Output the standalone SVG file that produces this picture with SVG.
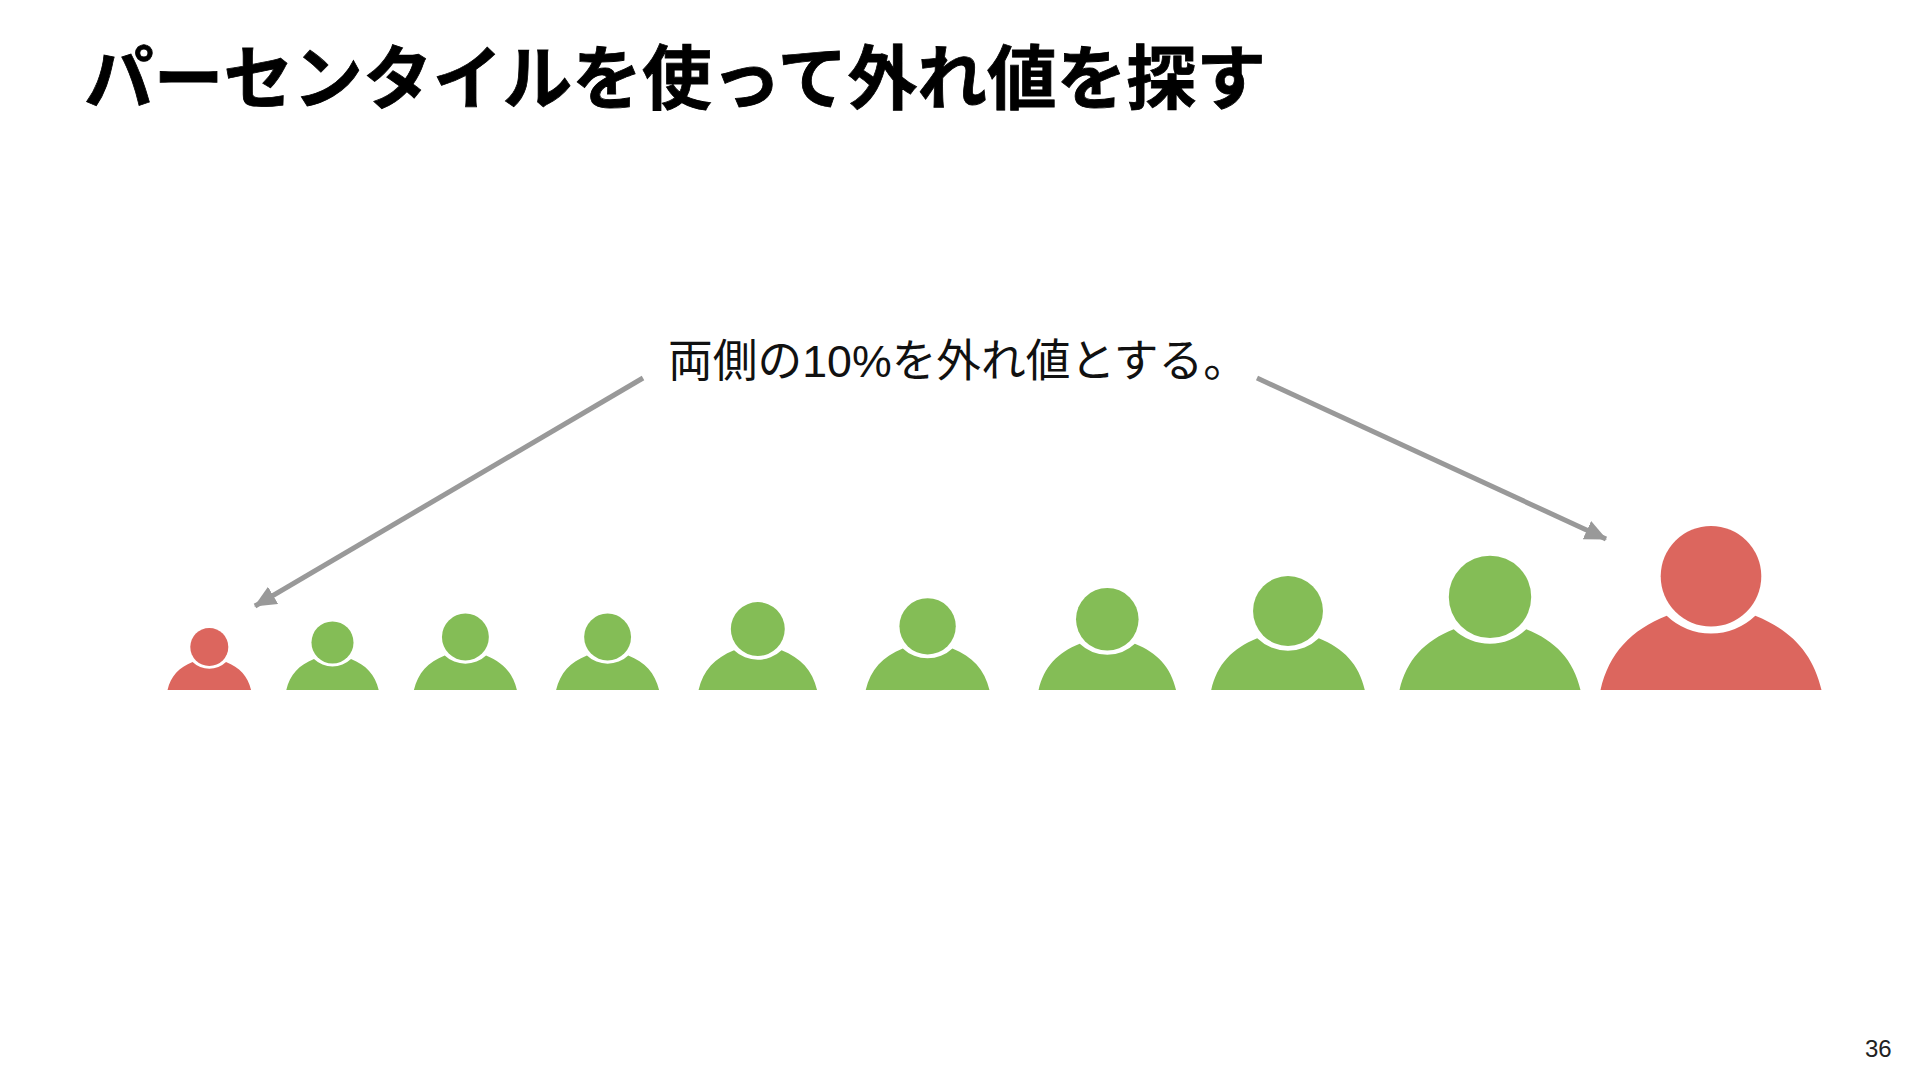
<svg xmlns="http://www.w3.org/2000/svg" width="1920" height="1080" viewBox="0 0 1920 1080">
<style>
.title{font-family:"Liberation Sans","Noto Sans CJK JP",sans-serif;font-weight:700;font-size:70px;fill:#000;stroke:#000;stroke-width:.8}
.note{font-family:"Liberation Sans","Noto Sans CJK JP",sans-serif;font-size:45px;fill:#111}
.page{font-family:"Liberation Sans",sans-serif;font-size:24px;fill:#222}
.red{fill:#DC665E}
.green{fill:#84BD56}
.arrow{stroke:#999;stroke-width:5;fill:none;marker-end:url(#head)}
</style>
<defs>
<marker id="head" viewBox="0 0 22 20" refX="21" refY="10" markerWidth="22" markerHeight="20" markerUnits="userSpaceOnUse" orient="auto"><path d="M0 0L22 10L0 20Z" fill="#999"/></marker>
<g id="person"><circle cx="0" cy="-113.7" r="50.3"/><path d="M-110.5 0C-102 -37 -80 -60 -44.3 -74.3A64 64 0 0 0 44.3 -74.3C80 -60 102 -37 110.5 0Z"/></g>
</defs>
<rect width="1920" height="1080" fill="#fff"/>
<text class="title" x="84" y="104" textLength="1182" lengthAdjust="spacingAndGlyphs">パーセンタイルを使って外れ値を探す</text>
<text class="note" x="668" y="377" textLength="580" lengthAdjust="spacingAndGlyphs">両側の10%を外れ値とする。</text>
<text class="page" x="1865" y="1057">36</text>
<g id="connectors">
<path class="arrow" d="M643 378L255 606"/>
<path class="arrow" d="M1257 378L1606 539"/>
</g>
<g id="person1" class="red"><use href="#person" transform="translate(209.3 690) scale(.378)"/></g>
<g id="person2" class="green"><use href="#person" transform="translate(332.5 690) scale(.418)"/></g>
<g id="person3" class="green"><use href="#person" transform="translate(465.4 690) scale(.466)"/></g>
<g id="person4" class="green"><use href="#person" transform="translate(607.6 690) scale(.466)"/></g>
<g id="person5" class="green"><use href="#person" transform="translate(757.8 690) scale(.536)"/></g>
<g id="person6" class="green"><use href="#person" transform="translate(927.6 690) scale(.56)"/></g>
<g id="person7" class="green"><use href="#person" transform="translate(1107.3 690) scale(.622)"/></g>
<g id="person8" class="green"><use href="#person" transform="translate(1288 690) scale(.695)"/></g>
<g id="person9" class="green"><use href="#person" transform="translate(1490 690) scale(.819)"/></g>
<g id="person10" class="red"><use href="#person" transform="translate(1711 690)"/></g>
</svg>
